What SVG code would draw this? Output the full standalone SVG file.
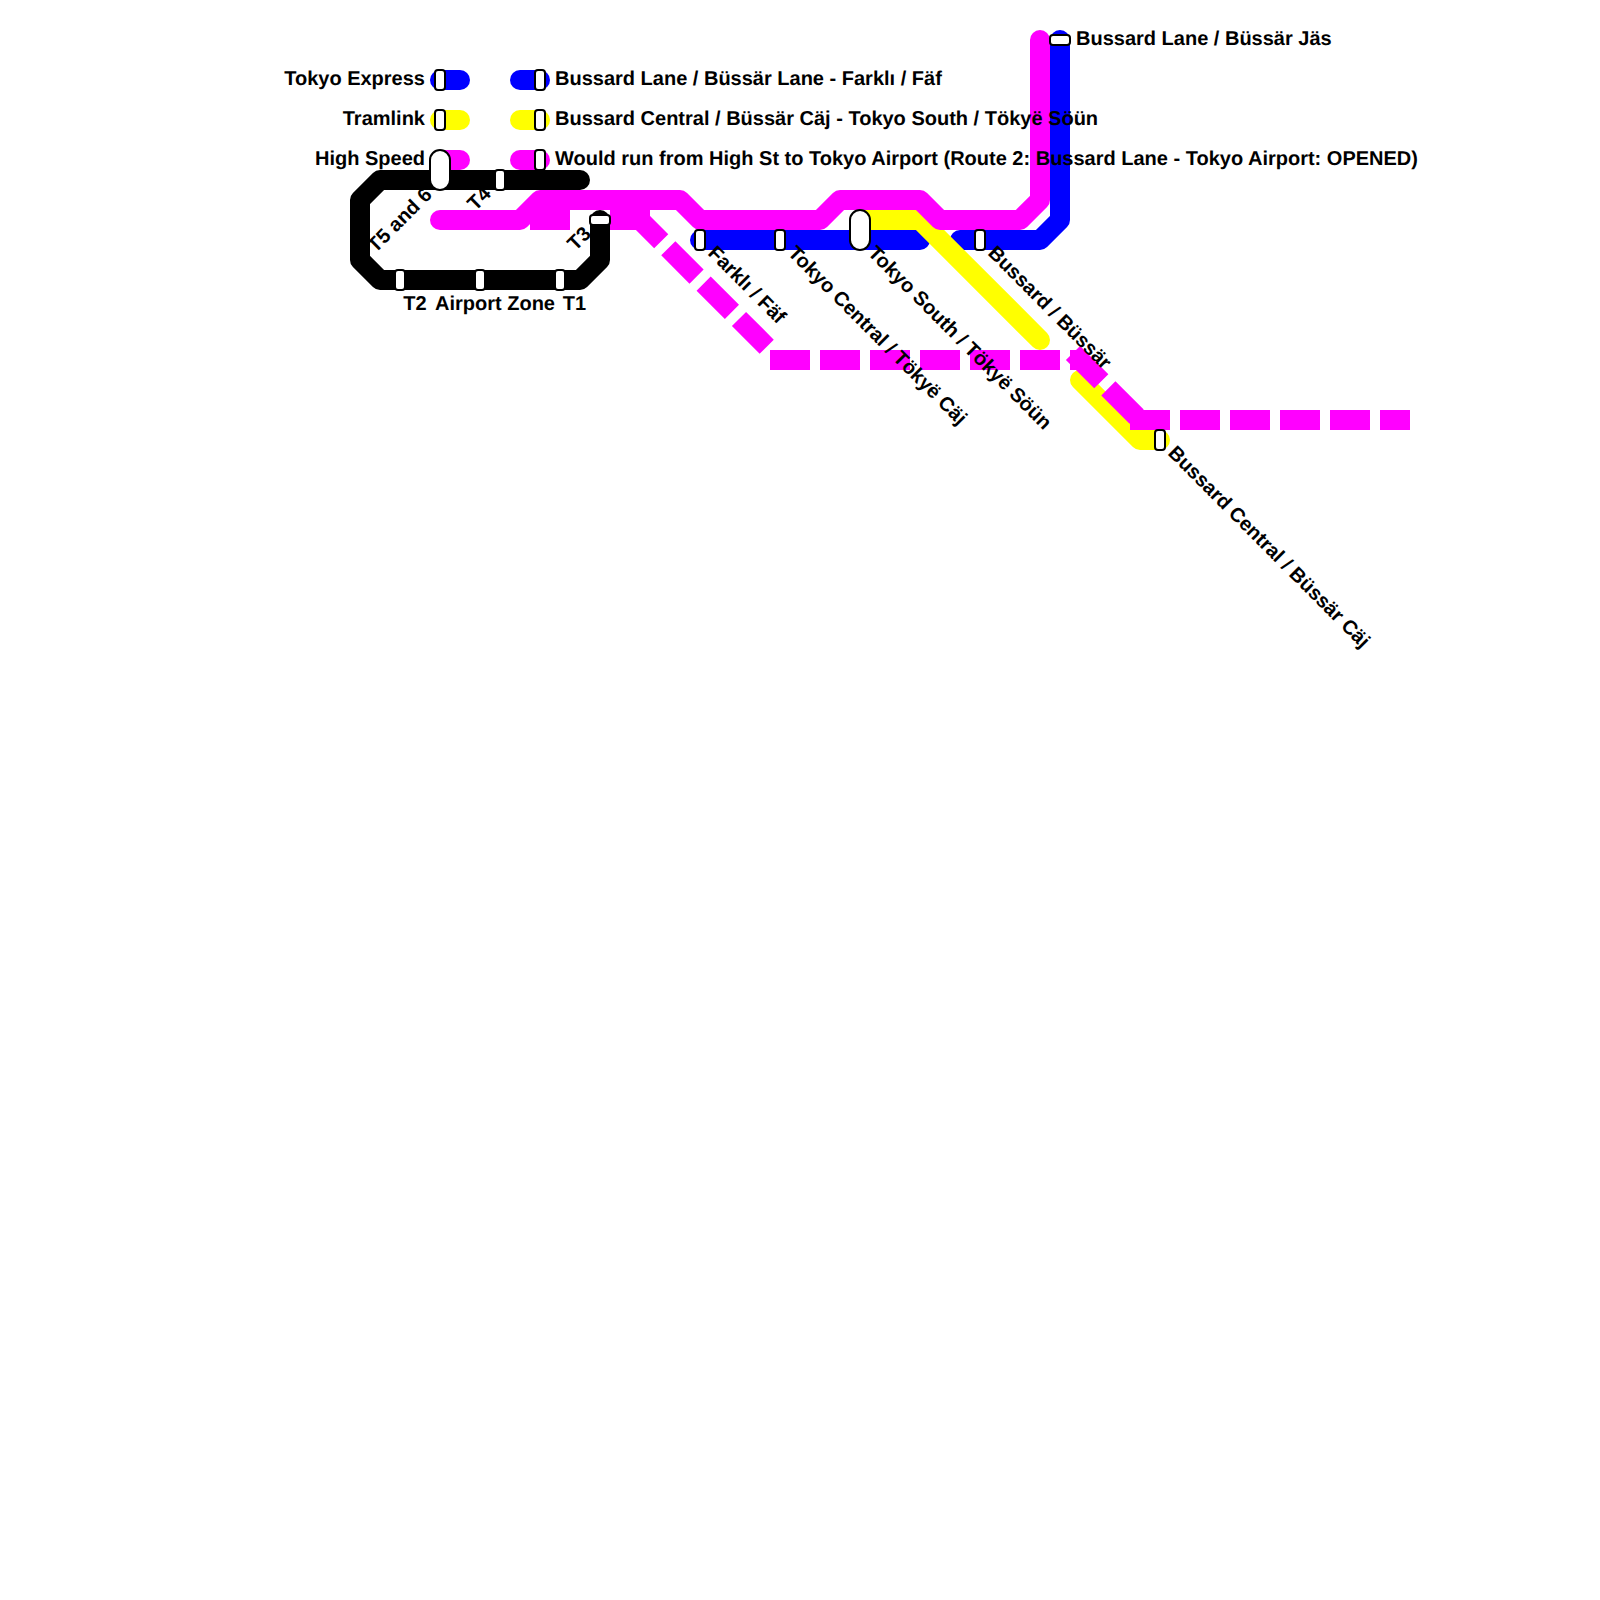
<svg xmlns="http://www.w3.org/2000/svg" width="1600" height="1600" viewBox="0 0 1600 1600">
<style>
.l{fill:none;stroke-width:20;stroke-linecap:round;stroke-linejoin:round}
.d{fill:none;stroke-width:20;stroke-linecap:butt;stroke-linejoin:miter;stroke:#f0f}
.a{stroke-dasharray:40 10}
.b{stroke:#00f}.y{stroke:#ff0}.m{stroke:#f0f}.k{stroke:#000}
.s{fill:#fff;stroke:#000;stroke-width:2}
text{font-family:"Liberation Sans",Arial,sans-serif;font-weight:bold;font-size:20px;fill:#000;text-rendering:geometricPrecision}
.e{text-anchor:end}
</style>
<g id="connectors">
<path class="l b" d="M440 80H460"/><path class="l y" d="M440 120H460"/><path class="l m" d="M440 160H460"/>
<path class="l b" d="M520 80H540"/><path class="l y" d="M520 120H540"/><path class="l m" d="M520 160H540"/>
<path class="l b" d="M700 240H920"/>
<path class="l b" d="M960 240H1040L1060 220V40"/>
<path class="l y" d="M860 220H920L1040 340"/>
<path class="l y" d="M1080 380L1140 440H1160"/>
<path class="l m" d="M440 220H520L540 200H680L700 220H820L840 200H920L940 220H1020L1040 200V40"/>
<path class="d" d="M530 220H570"/>
<path class="d" d="M610 220H650"/>
<path class="d a" stroke-dashoffset="10" d="M640 220L766.7 346.7"/>
<path class="d a" d="M770 360H1080"/>
<path class="d a" d="M1073 353L1140 420"/>
<path class="d a" d="M1130 420H1410"/>
<path class="l k" d="M580 180H380L360 200V260L380 280H580L600 260V220"/>
</g>
<g id="st-legend-express"><rect class="s" x="435" y="70" width="10" height="20" rx="3"/><text class="e" x="425" y="85">Tokyo Express</text></g>
<g id="st-legend-tram"><rect class="s" x="435" y="110" width="10" height="20" rx="3"/><text class="e" x="425" y="125">Tramlink</text></g>
<g id="st-t56"><rect class="s" x="430" y="150" width="20" height="40" rx="10"/><text class="e" x="425" y="165">High Speed</text><text class="e" transform="translate(433 196) rotate(-45)">T5 and 6</text></g>
<g id="st-legend-a"><rect class="s" x="535" y="70" width="10" height="20" rx="3"/><text x="555" y="85">Bussard Lane / Büssär Lane - Farklı / Fäf</text></g>
<g id="st-legend-b"><rect class="s" x="535" y="110" width="10" height="20" rx="3"/><text x="555" y="125">Bussard Central / Büssär Cäj - Tokyo South / Tökyë Söün</text></g>
<g id="st-legend-c"><rect class="s" x="535" y="150" width="10" height="20" rx="3"/><text x="555" y="165">Would run from High St to Tokyo Airport (Route 2: Bussard Lane - Tokyo Airport: OPENED)</text></g>
<g id="st-t4"><rect class="s" x="495" y="170" width="10" height="20" rx="3"/><text class="e" transform="translate(492 195) rotate(-45)">T4</text></g>
<g id="st-t3"><rect class="s" x="590" y="215" width="20" height="10" rx="3"/><text class="e" transform="translate(592 235) rotate(-45)">T3</text></g>
<g id="st-t2"><rect class="s" x="395" y="270" width="10" height="20" rx="3"/><text x="415" y="310" text-anchor="middle">T2</text></g>
<g id="st-az"><rect class="s" x="475" y="270" width="10" height="20" rx="3"/><text x="495" y="310" text-anchor="middle">Airport Zone</text></g>
<g id="st-t1"><rect class="s" x="555" y="270" width="10" height="20" rx="3"/><text x="574.5" y="310" text-anchor="middle">T1</text></g>
<g id="st-farkli"><rect class="s" x="695" y="230" width="10" height="20" rx="3"/><text transform="translate(707 254) rotate(45)">Farklı / Fäf</text></g>
<g id="st-central"><rect class="s" x="775" y="230" width="10" height="20" rx="3"/><text transform="translate(787 254) rotate(45)">Tokyo Central / Tökyë Cäj</text></g>
<g id="st-south"><rect class="s" x="850" y="210" width="20" height="40" rx="10"/><text transform="translate(867 254) rotate(45)">Tokyo South / Tökyë Söün</text></g>
<g id="st-bussard"><rect class="s" x="975" y="230" width="10" height="20" rx="3"/><text transform="translate(987 254) rotate(45)">Bussard / Büssär</text></g>
<g id="st-jas"><rect class="s" x="1050" y="35" width="20" height="10" rx="3"/><text x="1076" y="45">Bussard Lane / Büssär Jäs</text></g>
<g id="st-bc"><rect class="s" x="1155" y="430" width="10" height="20" rx="3"/><text transform="translate(1167 454) rotate(45)">Bussard Central / Büssär Cäj</text></g>
</svg>
